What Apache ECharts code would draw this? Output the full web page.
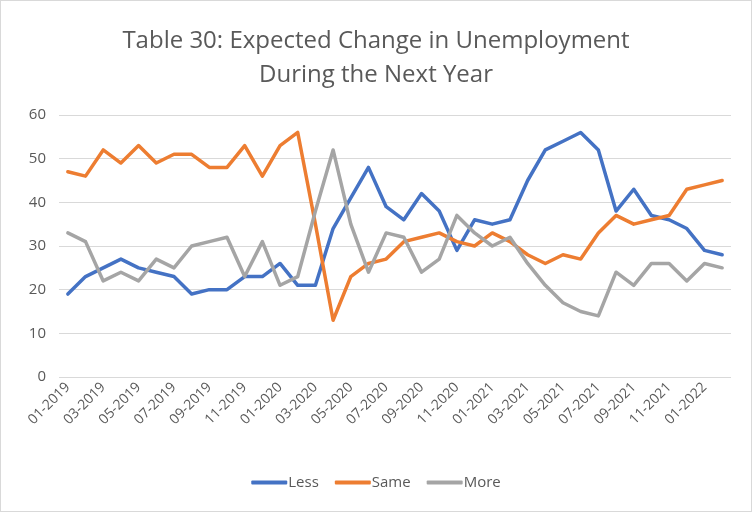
<!DOCTYPE html>
<html>
<head>
<meta charset="utf-8">
<script src="https://cdn.jsdelivr.net/npm/echarts@6/dist/echarts.min.js"></script>
<style>
  html, body { margin: 0; padding: 0; background: #fff; }
  #chart { width: 752px; height: 512px; box-sizing: border-box; border: 1px solid #d9d9d9; }
</style>
</head>
<body>
<div id="chart"></div>
<script>
// months 01-2019 .. 02-2022
const months = [];
for (let y = 2019; y <= 2022; y++) {
  for (let m = 1; m <= 12; m++) {
    if (y === 2022 && m > 2) break;
    months.push((m < 10 ? '0' + m : '' + m) + '-' + y);
  }
}

const less = [19, 23, 25, 27, 25, 24, 23, 19, 20, 20, 23, 23, 26, 21, 21, 34, 41, 48, 39, 36,
  42, 38, 29, 36, 35, 36, 45, 52, 54, 56, 52, 38, 43, 37, 36, 34, 29, 28];
const same = [47, 46, 52, 49, 53, 49, 51, 51, 48, 48, 53, 46, 53, 56, 35, 13, 23, 26, 27, 31,
  32, 33, 31, 30, 33, 31, 28, 26, 28, 27, 33, 37, 35, 36, 37, 43, 44, 45];
const more = [33, 31, 22, 24, 22, 27, 25, 30, 31, 32, 23, 31, 21, 23, 38, 52, 35, 24, 33, 32,
  24, 27, 37, 33, 30, 32, 26, 21, 17, 15, 14, 24, 21, 26, 26, 22, 26, 25];

const chart = echarts.init(document.getElementById('chart'));

const txt = '#595959';
const font = 'Open Sans';

const option = {
  animation: false,
  color: ['#4472C4', '#ED7D31', '#A5A5A5'],
  title: {
    text: 'Table 30: Expected Change in Unemployment\nDuring the Next Year',
    left: 'center',
    top: 18,
    textStyle: { color: txt, fontFamily: font, fontSize: 24, fontWeight: 'normal', lineHeight: 34 }
  },
  legend: {
    bottom: 16,
    left: 'center',
    itemWidth: 36,
    itemHeight: 4,
    itemGap: 16,
    icon: 'roundRect',
    textStyle: { color: txt, fontFamily: font, fontSize: 15, padding: [0, 0, 0, -4] },
    data: ['Less', 'Same', 'More']
  },
  grid: { left: 58, right: 20, top: 114, bottom: 134, containLabel: false },
  xAxis: {
    type: 'category',
    data: months,
    boundaryGap: true,
    axisLine: { show: false },
    axisTick: { show: false },
    axisLabel: { interval: 1, rotate: 45, color: txt, fontFamily: font, fontSize: 14, margin: 8 }
  },
  yAxis: {
    type: 'value',
    min: 0,
    max: 60,
    interval: 10,
    axisLine: { show: false },
    axisTick: { show: false },
    axisLabel: { color: txt, fontFamily: font, fontSize: 15, margin: 13 },
    splitLine: { lineStyle: { color: '#d9d9d9', width: 1 } }
  },
  series: [
    { name: 'Less', type: 'line', data: less, symbol: 'none', lineStyle: { width: 3.5, cap: 'round', join: 'round' } },
    { name: 'Same', type: 'line', data: same, symbol: 'none', lineStyle: { width: 3.5, cap: 'round', join: 'round' } },
    { name: 'More', type: 'line', data: more, symbol: 'none', lineStyle: { width: 3.5, cap: 'round', join: 'round' } }
  ]
};

chart.setOption(option);
</script>
</body>
</html>
